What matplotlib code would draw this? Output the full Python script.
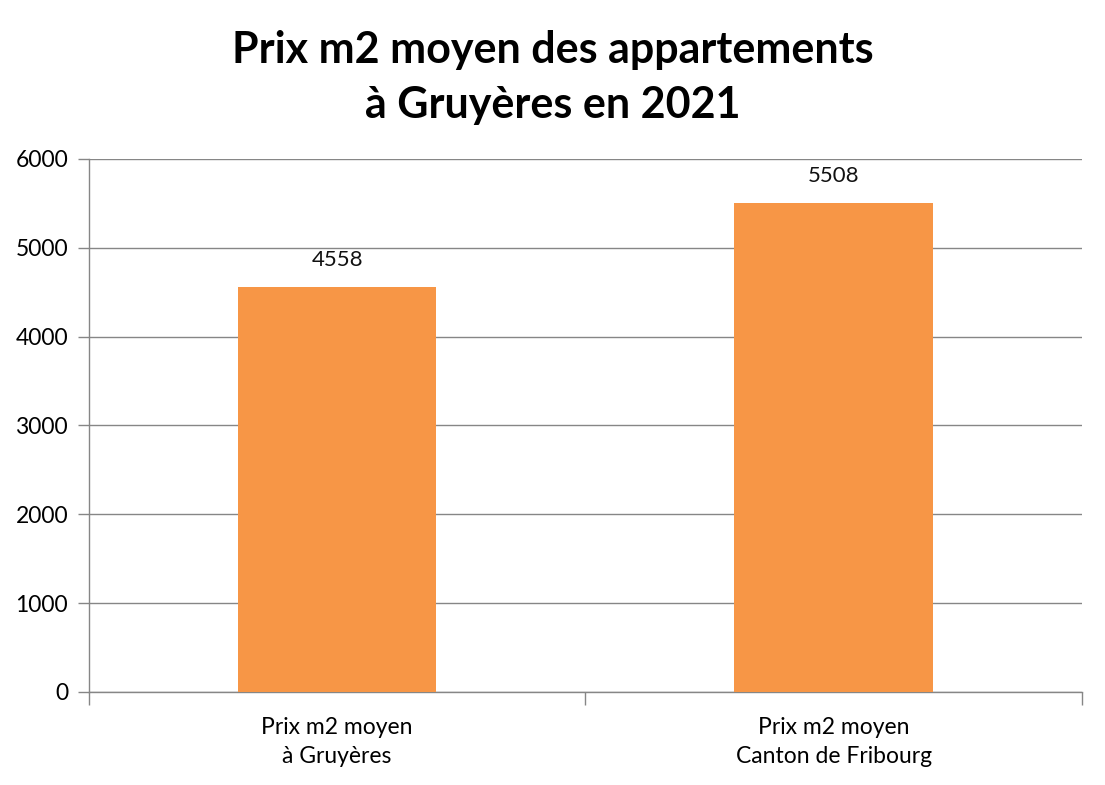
import matplotlib.pyplot as plt

# Data
categories = ['Prix m2 moyen\nà Gruyères', 'Prix m2 moyen\nCanton de Fribourg']
values = [4558, 5508]
yticks = [0, 1000, 2000, 3000, 4000, 5000, 6000]

plt.rcParams['font.family'] = ['Lato', 'DejaVu Sans']

fig = plt.figure(figsize=(11.05, 7.85), dpi=100)
ax = fig.add_axes([0.0805, 0.1185, 0.8985, 0.679])

x = range(len(categories))
bars = ax.bar(x, values, width=0.4, color='#F79646', zorder=3)

for xi, v in zip(x, values):
    ax.annotate(str(v), (xi, v), xytext=(0, 12), textcoords='offset points',
                ha='center', va='bottom', fontsize=16, color='#111111')

ax.set_xlim(-0.5, len(categories) - 0.5)
ax.set_ylim(0, 6000)
ax.set_yticks(yticks)
ax.set_xticks(list(x))
ax.set_xticklabels(categories, fontsize=16.5, linespacing=1.45)
ax.set_xticks([-0.5, 0.5, 1.5], minor=True)
ax.tick_params(axis='x', which='major', length=0, pad=18)
ax.tick_params(axis='x', which='minor', length=9, color='#868686', width=1)
ax.tick_params(axis='y', length=8, color='#868686', width=1, labelsize=16.5, pad=7)

ax.grid(axis='y', color='#868686', linewidth=1, zorder=0)
for s in ['top', 'right']:
    ax.spines[s].set_visible(False)
for s in ['left', 'bottom']:
    ax.spines[s].set_color('#868686')
    ax.spines[s].set_linewidth(1)

fig.suptitle('Prix m2 moyen des appartements\nà Gruyères en 2021', fontsize=31,
             fontweight='bold', y=0.962, va='top', linespacing=1.45)

fig.savefig('out.png', dpi=100)
